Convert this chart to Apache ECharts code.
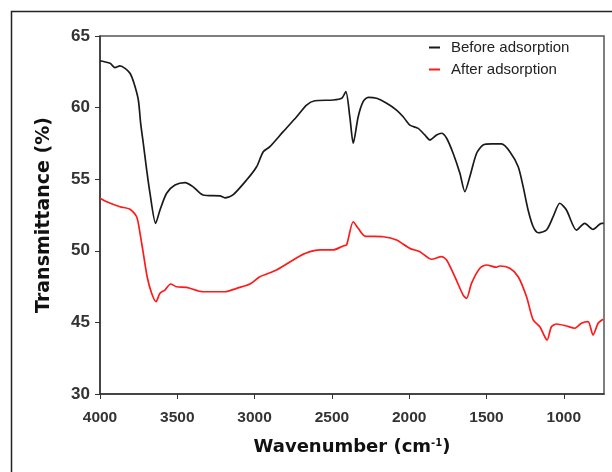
<!DOCTYPE html>
<html>
<head>
<meta charset="utf-8">
<script src="https://cdn.jsdelivr.net/npm/echarts@6/dist/echarts.min.js"></script>
<style>
  html, body { margin: 0; padding: 0; background: #fff; }
  #chart { width: 612px; height: 472px; }
</style>
</head>
<body>
<div id="chart"></div>
<script>
// wavenumbers (cm-1) and transmittance (%)
const beforeWn = [4000, 3935, 3903, 3871, 3838, 3806, 3780, 3752, 3737, 3720, 3698, 3677, 3640, 3612, 3569, 3515, 3450, 3399, 3334, 3224, 3192, 3140, 3052, 2987, 2944, 2901, 2815, 2728, 2664, 2610, 2492, 2437, 2410, 2384, 2362, 2330, 2298, 2265, 2211, 2146, 2082, 2039, 1996, 1942, 1899, 1866, 1823, 1791, 1758, 1716, 1672, 1640, 1608, 1564, 1522, 1467, 1403, 1349, 1295, 1263, 1231, 1198, 1166, 1112, 1069, 1026, 983, 918, 865, 811, 756, 742];
const beforeT = [63.27, 63.09, 62.79, 62.91, 62.74, 62.40, 61.70, 60.53, 58.90, 57.51, 55.64, 54.04, 51.92, 52.85, 54.02, 54.59, 54.76, 54.48, 53.90, 53.83, 53.70, 53.90, 54.94, 55.87, 56.92, 57.27, 58.32, 59.36, 60.18, 60.48, 60.53, 60.65, 61.11, 59.36, 57.51, 59.36, 60.41, 60.72, 60.65, 60.30, 59.83, 59.36, 58.78, 58.55, 58.09, 57.74, 58.09, 58.21, 57.86, 56.81, 55.41, 54.13, 55.17, 56.81, 57.39, 57.46, 57.46, 56.92, 55.87, 54.48, 52.85, 51.68, 51.26, 51.45, 52.38, 53.32, 52.85, 51.45, 51.92, 51.50, 51.92, 51.92];

const afterWn = [4000, 3957, 3871, 3806, 3763, 3741, 3720, 3695, 3666, 3638, 3612, 3580, 3543, 3505, 3440, 3332, 3192, 3116, 3030, 2966, 2858, 2750, 2707, 2642, 2578, 2492, 2427, 2405, 2362, 2330, 2287, 2168, 2082, 1996, 1931, 1855, 1791, 1758, 1705, 1651, 1629, 1597, 1543, 1500, 1435, 1414, 1349, 1295, 1241, 1198, 1155, 1123, 1108, 1080, 1047, 983, 929, 886, 843, 811, 778, 746];
const afterT = [53.67, 53.43, 53.08, 52.90, 52.38, 51.22, 49.83, 48.19, 47.03, 46.45, 47.03, 47.26, 47.68, 47.49, 47.45, 47.14, 47.14, 47.38, 47.68, 48.19, 48.66, 49.36, 49.64, 49.94, 50.06, 50.06, 50.34, 50.41, 52.03, 51.57, 51.03, 50.98, 50.75, 50.17, 49.94, 49.41, 49.59, 49.36, 48.19, 46.91, 46.68, 47.73, 48.78, 49.01, 48.85, 48.94, 48.78, 48.19, 46.79, 45.17, 44.70, 44.00, 43.77, 44.70, 44.89, 44.75, 44.59, 44.94, 45.05, 44.12, 44.94, 45.22];

const xTicks = [1000, 1500, 2000, 2500, 3000, 3500, 4000];
// the y axis is broken below 45: the bottom tick is printed as 30
const yTickLabels = { 40: "30", 45: "45", 50: "50", 55: "55", 60: "60", 65: "65" };

const seriesNames = ["Before adsorption", "After adsorption"];

function zip(a, b) {
  return a.map((v, i) => [v, b[i]]);
}

const myChart = echarts.init(document.getElementById("chart"));

const option = {
  backgroundColor: "#fff",
  animation: false,
  graphic: [
    {
      type: "rect",
      left: 9,
      top: 9,
      shape: { width: 640, height: 500 },
      style: { fill: "none", stroke: "#222", lineWidth: 1.5 },
    },
  ],
  grid: {
    left: 100,
    right: 8,
    top: 36,
    bottom: 78,
    show: true,
    borderColor: "#555",
    borderWidth: 1.5,
  },
  legend: {
    orient: "vertical",
    left: 424,
    top: 35,
    itemGap: 7,
    itemWidth: 11,
    itemHeight: 2,
    data: [
      { name: seriesNames[0], icon: "rect" },
      { name: seriesNames[1], icon: "rect" },
    ],
    textStyle: {
      fontFamily: "Liberation Sans, Arial",
      fontSize: 15,
      color: "#222",
      padding: [0, 0, 0, 6],
    },
  },
  xAxis: {
    type: "value",
    inverse: true,
    min: 740,
    max: 4000,
    name: "{a|Wavenumber (cm}{s|-1}{a|)}",
    nameLocation: "middle",
    nameGap: 44,
    nameTextStyle: {
      rich: {
        a: { fontFamily: "DejaVu Sans", fontWeight: "bold", fontSize: 18, color: "#111" },
        s: { fontFamily: "DejaVu Sans", fontWeight: "bold", fontSize: 10, color: "#111", verticalAlign: "top", padding: [0, 0, 8, 0] },
      },
    },
    splitLine: { show: false },
    axisLine: { lineStyle: { color: "#333", width: 1.5 } },
    axisTick: {
      customValues: xTicks,
      length: 5,
      lineStyle: { color: "#333" },
    },
    axisLabel: {
      customValues: xTicks,
      margin: 16,
      fontFamily: "Liberation Sans, Arial",
      fontSize: 15.5,
      fontWeight: "bold",
      color: "#333",
      formatter: (v) => String(v),
    },
  },
  yAxis: {
    type: "value",
    min: 40,
    max: 65,
    interval: 5,
    name: "Transmittance (%)",
    nameLocation: "middle",
    nameGap: 46,
    nameTextStyle: {
      fontFamily: "DejaVu Sans",
      fontWeight: "bold",
      fontSize: 19,
      color: "#111",
    },
    splitLine: { show: false },
    axisLine: { show: true, lineStyle: { color: "#333", width: 1.5 } },
    axisTick: { show: true, length: 5, lineStyle: { color: "#333" } },
    axisLabel: {
      margin: 10,
      fontFamily: "Liberation Sans, Arial",
      fontSize: 17,
      fontWeight: "bold",
      color: "#333",
      formatter: (v) => yTickLabels[v] || "",
    },
  },
  series: [
    {
      name: seriesNames[0],
      type: "line",
      data: zip(beforeWn, beforeT),
      showSymbol: false,
      smooth: 0.25,
      lineStyle: { color: "#1a1a1a", width: 1.7 },
      itemStyle: { color: "#1a1a1a" },
    },
    {
      name: seriesNames[1],
      type: "line",
      data: zip(afterWn, afterT),
      showSymbol: false,
      smooth: 0.25,
      lineStyle: { color: "#ff1a1a", width: 1.7 },
      itemStyle: { color: "#ff1a1a" },
    },
  ],
};

myChart.setOption(option);
</script>
</body>
</html>
